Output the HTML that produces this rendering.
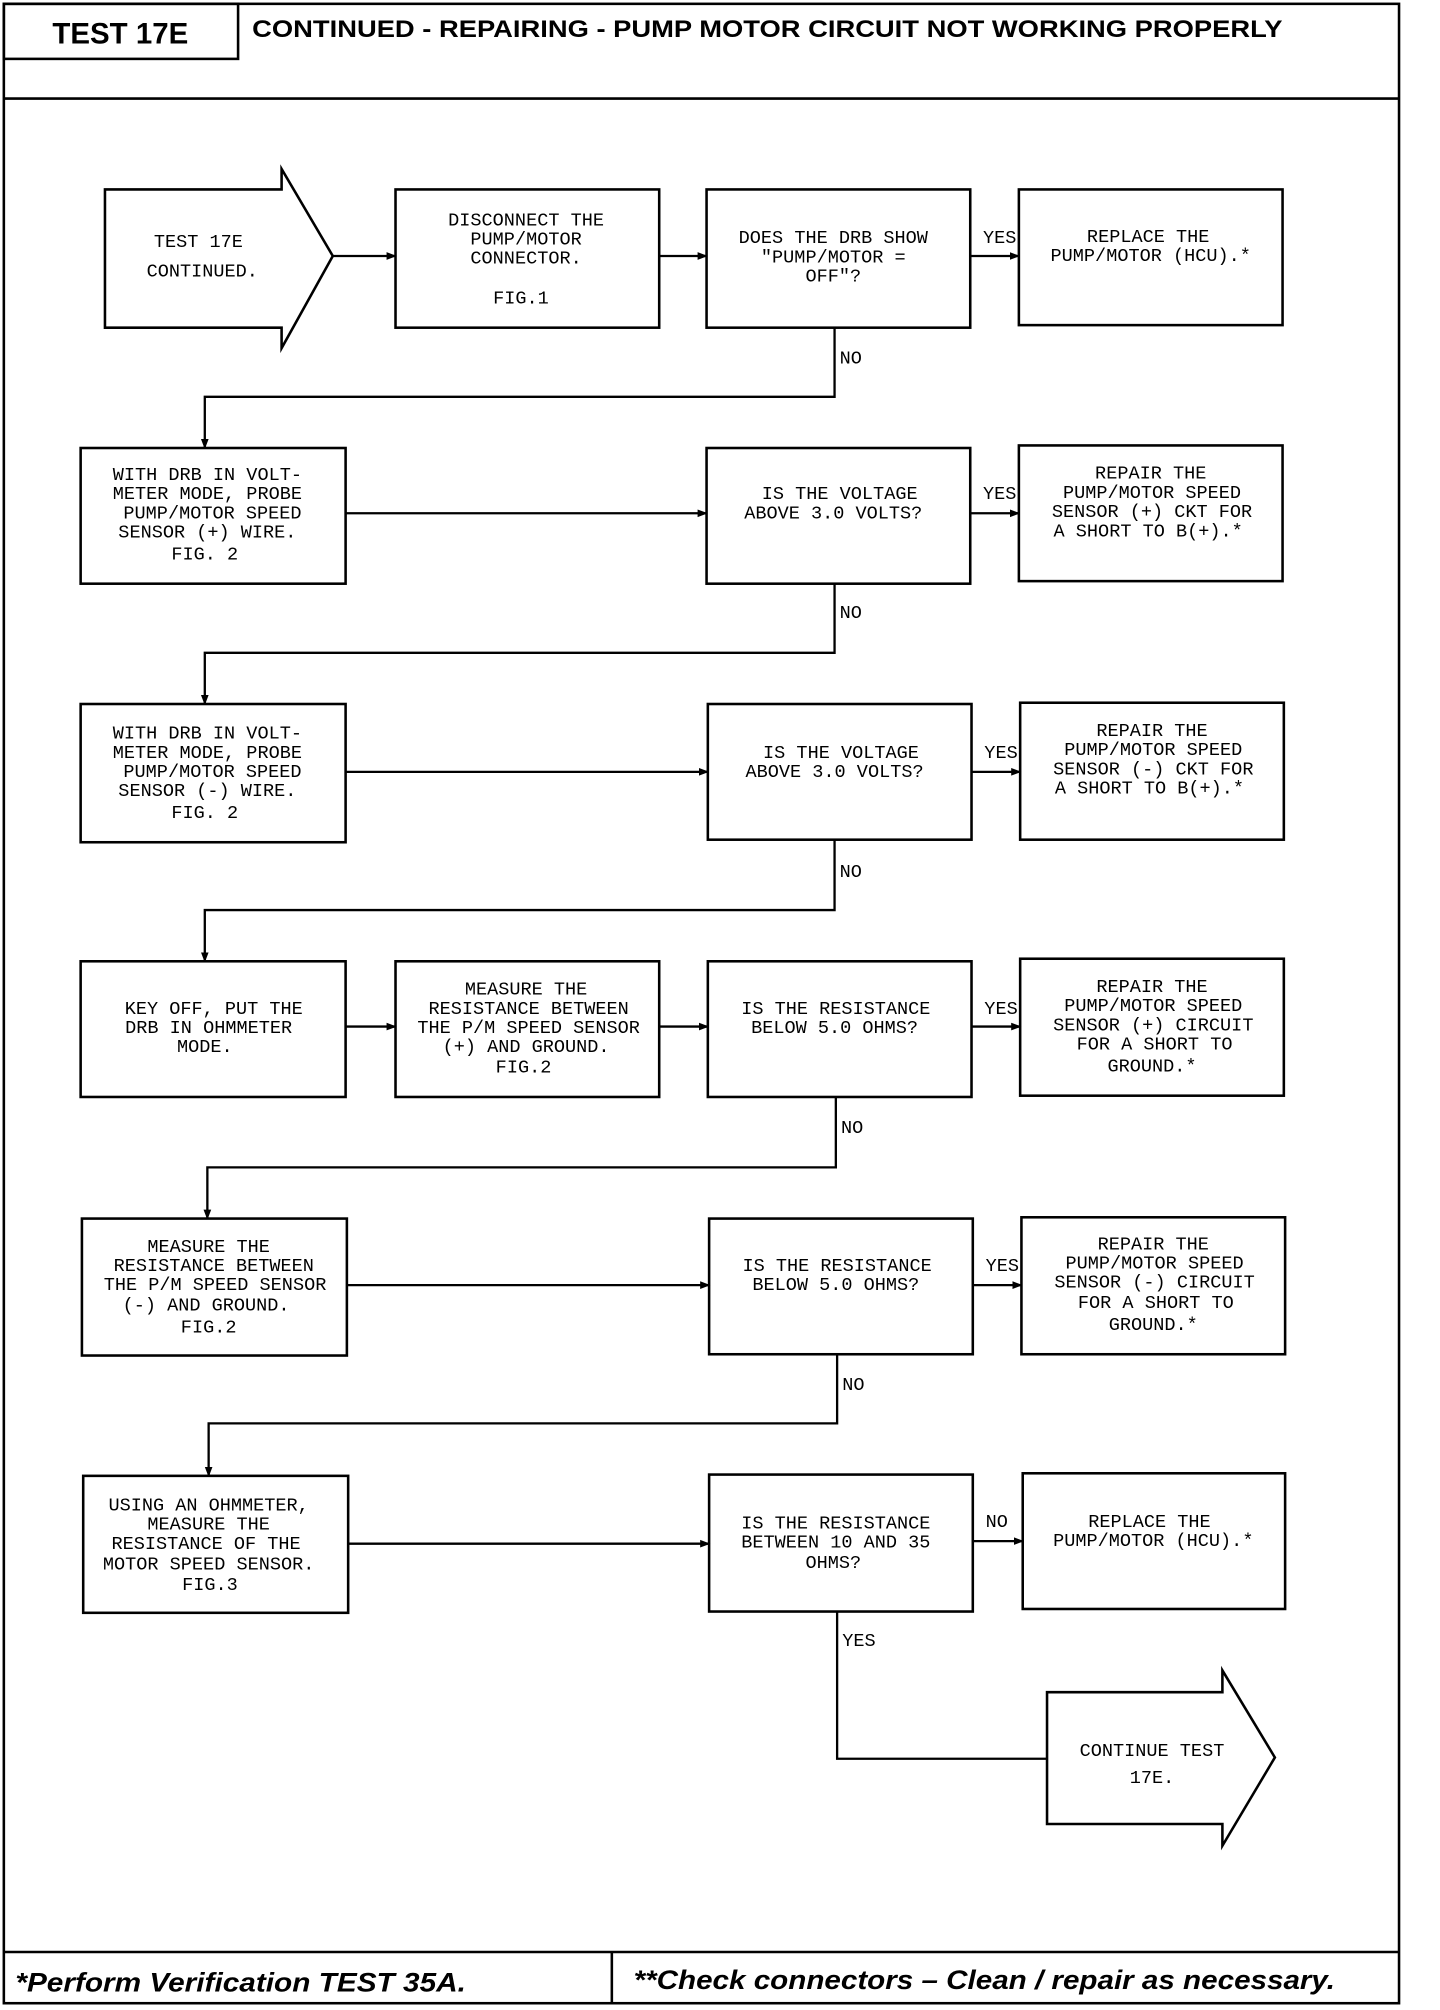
<!DOCTYPE html>
<html><head><meta charset="utf-8"><style>
html,body{margin:0;padding:0;background:#fff;}
svg{display:block;}
.b{fill:#fff;stroke:#000;stroke-width:2;}
.l{fill:none;stroke:#000;stroke-width:1.8;}
text{font-family:"Liberation Mono","DejaVu Sans Mono",monospace;font-size:14.5px;fill:#000;}
.t{text-anchor:middle;}
.h{font-family:"Liberation Sans",Arial,sans-serif;font-weight:bold;}
.f{font-family:"Liberation Sans",Arial,sans-serif;font-weight:bold;font-style:italic;font-size:21px;}
</style></head><body>
<svg width="1440" height="2010" viewBox="0 0 1125 1570.3" preserveAspectRatio="none" xmlns="http://www.w3.org/2000/svg">
<defs><marker id="a" markerWidth="8" markerHeight="8" refX="7" refY="4" orient="auto" markerUnits="userSpaceOnUse"><path d="M0,1 L8,4 L0,7z" fill="#000"/></marker></defs>
<!-- frame -->
<rect x="3" y="3" width="1090" height="1562" fill="none" stroke="#000" stroke-width="2"/>
<rect x="3" y="3" width="183" height="43" fill="none" stroke="#000" stroke-width="2"/>
<line x1="3" y1="77" x2="1093" y2="77" stroke="#000" stroke-width="2"/>
<text x="94" y="34" class="t h" style="font-size:23px">TEST 17E</text>
<text x="197" y="29" class="h" style="font-size:18.5px" textLength="805" lengthAdjust="spacingAndGlyphs">CONTINUED - REPAIRING - PUMP MOTOR CIRCUIT NOT WORKING PROPERLY</text>
<line x1="3" y1="1525" x2="1093" y2="1525" stroke="#000" stroke-width="2"/>
<line x1="478" y1="1525" x2="478" y2="1565" stroke="#000" stroke-width="2"/>
<text x="12" y="1556" class="f" textLength="352" lengthAdjust="spacingAndGlyphs">*Perform Verification TEST 35A.</text>
<text x="495" y="1554" class="f" textLength="548" lengthAdjust="spacingAndGlyphs">**Check connectors – Clean / repair as necessary.</text>

<!-- row 1 -->
<path class="b" d="M82,148 H220 V132 L260,200 L220,272 V256 H82 Z"/>
<text x="155" y="193" class="t">TEST 17E</text><text x="158" y="216" class="t">CONTINUED.</text>
<rect class="b" x="309" y="148" width="206" height="108"/>
<text x="411" y="176" class="t">DISCONNECT THE</text><text x="411" y="191" class="t">PUMP/MOTOR</text><text x="411" y="206" class="t">CONNECTOR.</text><text x="407" y="237" class="t">FIG.1</text>
<rect class="b" x="552" y="148" width="206" height="108"/>
<text x="651" y="190" class="t">DOES THE DRB SHOW</text><text x="651" y="205" class="t">"PUMP/MOTOR =</text><text x="651" y="220" class="t">OFF"?</text>
<rect class="b" x="796" y="148" width="206" height="106"/>
<text x="897" y="189" class="t">REPLACE THE</text><text x="899" y="204" class="t">PUMP/MOTOR (HCU).*</text>
<line class="l" x1="260" y1="200" x2="309" y2="200" marker-end="url(#a)"/>
<line class="l" x1="515" y1="200" x2="552" y2="200" marker-end="url(#a)"/>
<line class="l" x1="758" y1="200" x2="796" y2="200" marker-end="url(#a)"/>
<text x="768" y="190">YES</text>
<path class="l" d="M652,256 V310 H160 V350" marker-end="url(#a)"/>
<text x="656" y="284">NO</text>

<!-- row 2 -->
<rect class="b" x="63" y="350" width="207" height="106"/>
<text x="162" y="375" class="t">WITH DRB IN VOLT-</text><text x="162" y="390" class="t">METER MODE, PROBE</text><text x="166" y="405" class="t">PUMP/MOTOR SPEED</text><text x="162" y="420" class="t">SENSOR (+) WIRE.</text><text x="160" y="437" class="t">FIG. 2</text>
<rect class="b" x="552" y="350" width="206" height="106"/>
<text x="656" y="390" class="t">IS THE VOLTAGE</text><text x="651" y="405" class="t">ABOVE 3.0 VOLTS?</text>
<rect class="b" x="796" y="348" width="206" height="106"/>
<text x="899" y="374" class="t">REPAIR THE</text><text x="900" y="389" class="t">PUMP/MOTOR SPEED</text><text x="900" y="404" class="t">SENSOR (+) CKT FOR</text><text x="897" y="419" class="t">A SHORT TO B(+).*</text>
<line class="l" x1="270" y1="401" x2="552" y2="401" marker-end="url(#a)"/>
<line class="l" x1="758" y1="401" x2="796" y2="401" marker-end="url(#a)"/>
<text x="768" y="390">YES</text>
<path class="l" d="M652,456 V510 H160 V550" marker-end="url(#a)"/>
<text x="656" y="483">NO</text>

<!-- row 3 -->
<rect class="b" x="63" y="550" width="207" height="108"/>
<text x="162" y="577" class="t">WITH DRB IN VOLT-</text><text x="162" y="592" class="t">METER MODE, PROBE</text><text x="166" y="607" class="t">PUMP/MOTOR SPEED</text><text x="162" y="622" class="t">SENSOR (-) WIRE.</text><text x="160" y="639" class="t">FIG. 2</text>
<rect class="b" x="553" y="550" width="206" height="106"/>
<text x="657" y="592" class="t">IS THE VOLTAGE</text><text x="652" y="607" class="t">ABOVE 3.0 VOLTS?</text>
<rect class="b" x="797" y="549" width="206" height="107"/>
<text x="900" y="575" class="t">REPAIR THE</text><text x="901" y="590" class="t">PUMP/MOTOR SPEED</text><text x="901" y="605" class="t">SENSOR (-) CKT FOR</text><text x="898" y="620" class="t">A SHORT TO B(+).*</text>
<line class="l" x1="270" y1="603" x2="553" y2="603" marker-end="url(#a)"/>
<line class="l" x1="759" y1="603" x2="797" y2="603" marker-end="url(#a)"/>
<text x="769" y="592">YES</text>
<path class="l" d="M652,656 V711 H160 V751" marker-end="url(#a)"/>
<text x="656" y="685">NO</text>

<!-- row 4 -->
<rect class="b" x="63" y="751" width="207" height="106"/>
<text x="167" y="792" class="t">KEY OFF, PUT THE</text><text x="163" y="807" class="t">DRB IN OHMMETER</text><text x="160" y="822" class="t">MODE.</text>
<rect class="b" x="309" y="751" width="206" height="106"/>
<text x="411" y="777" class="t">MEASURE THE</text><text x="413" y="792" class="t">RESISTANCE BETWEEN</text><text x="413" y="807" class="t">THE P/M SPEED SENSOR</text><text x="411" y="822" class="t">(+) AND GROUND.</text><text x="409" y="838" class="t">FIG.2</text>
<rect class="b" x="553" y="751" width="206" height="106"/>
<text x="653" y="792" class="t">IS THE RESISTANCE</text><text x="652" y="807" class="t">BELOW 5.0 OHMS?</text>
<rect class="b" x="797" y="749" width="206" height="107"/>
<text x="900" y="775" class="t">REPAIR THE</text><text x="901" y="790" class="t">PUMP/MOTOR SPEED</text><text x="901" y="805" class="t">SENSOR (+) CIRCUIT</text><text x="902" y="820" class="t">FOR A SHORT TO</text><text x="900" y="837" class="t">GROUND.*</text>
<line class="l" x1="270" y1="802" x2="309" y2="802" marker-end="url(#a)"/>
<line class="l" x1="515" y1="802" x2="553" y2="802" marker-end="url(#a)"/>
<line class="l" x1="759" y1="802" x2="797" y2="802" marker-end="url(#a)"/>
<text x="769" y="792">YES</text>
<path class="l" d="M653,857 V912 H162 V952" marker-end="url(#a)"/>
<text x="657" y="885">NO</text>

<!-- row 5 -->
<rect class="b" x="64" y="952" width="207" height="107"/>
<text x="163" y="978" class="t">MEASURE THE</text><text x="167" y="993" class="t">RESISTANCE BETWEEN</text><text x="168" y="1008" class="t">THE P/M SPEED SENSOR</text><text x="161" y="1024" class="t">(-) AND GROUND.</text><text x="163" y="1041" class="t">FIG.2</text>
<rect class="b" x="554" y="952" width="206" height="106"/>
<text x="654" y="993" class="t">IS THE RESISTANCE</text><text x="653" y="1008" class="t">BELOW 5.0 OHMS?</text>
<rect class="b" x="798" y="951" width="206" height="107"/>
<text x="901" y="976" class="t">REPAIR THE</text><text x="902" y="991" class="t">PUMP/MOTOR SPEED</text><text x="902" y="1006" class="t">SENSOR (-) CIRCUIT</text><text x="903" y="1022" class="t">FOR A SHORT TO</text><text x="901" y="1039" class="t">GROUND.*</text>
<line class="l" x1="271" y1="1004" x2="554" y2="1004" marker-end="url(#a)"/>
<line class="l" x1="760" y1="1004" x2="798" y2="1004" marker-end="url(#a)"/>
<text x="770" y="993">YES</text>
<path class="l" d="M654,1058 V1112 H163 V1153" marker-end="url(#a)"/>
<text x="658" y="1086">NO</text>

<!-- row 6 -->
<rect class="b" x="65" y="1153" width="207" height="107"/>
<text x="163" y="1180" class="t">USING AN OHMMETER,</text><text x="163" y="1195" class="t">MEASURE THE</text><text x="161" y="1210" class="t">RESISTANCE OF THE</text><text x="163" y="1226" class="t">MOTOR SPEED SENSOR.</text><text x="164" y="1242" class="t">FIG.3</text>
<rect class="b" x="554" y="1152" width="206" height="107"/>
<text x="653" y="1194" class="t">IS THE RESISTANCE</text><text x="653" y="1209" class="t">BETWEEN 10 AND 35</text><text x="651" y="1225" class="t">OHMS?</text>
<rect class="b" x="799" y="1151" width="205" height="106"/>
<text x="898" y="1193" class="t">REPLACE THE</text><text x="901" y="1208" class="t">PUMP/MOTOR (HCU).*</text>
<line class="l" x1="272" y1="1206" x2="554" y2="1206" marker-end="url(#a)"/>
<line class="l" x1="760" y1="1204" x2="799" y2="1204" marker-end="url(#a)"/>
<text x="770" y="1193">NO</text>
<path class="l" d="M654,1259 V1374 H818"/>
<text x="658" y="1286">YES</text>
<path class="b" d="M818,1322 H955 V1305 L996,1373 L955,1442 V1425 H818 Z"/>
<text x="900" y="1372" class="t">CONTINUE TEST</text><text x="900" y="1393" class="t">17E.</text>
</svg>
</body></html>
